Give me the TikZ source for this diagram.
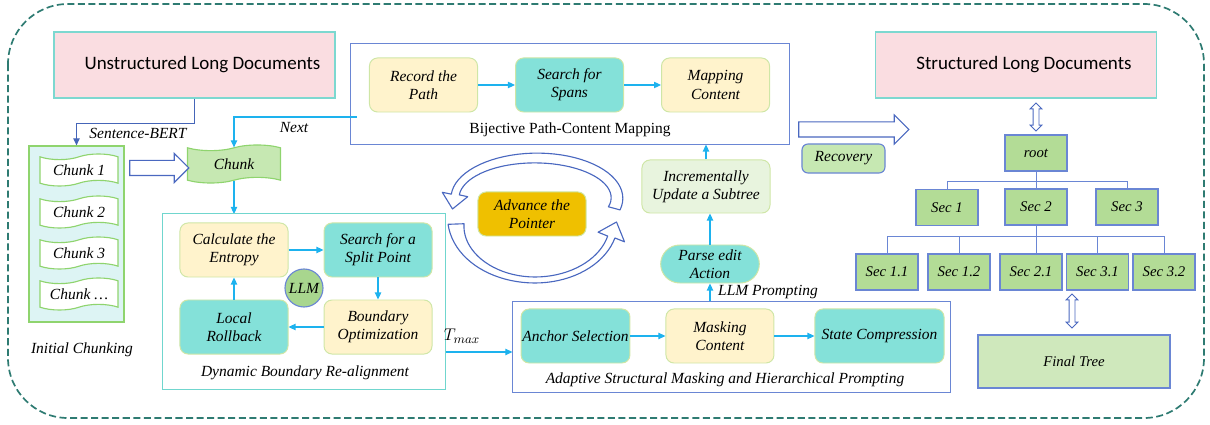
\documentclass[tikz,border=0pt]{standalone}
\usepackage{fontspec}
\setmainfont{Liberation Serif}
\newfontfamily\calibri{Carlito}
\usepackage{tikz}
\usetikzlibrary{arrows.meta,positioning,shapes.arrows,shapes.symbols,shapes.misc,calc}
\definecolor{docpink}{HTML}{FADDE1}
\definecolor{docedge}{HTML}{7CD8D0}
\definecolor{frameblue}{HTML}{6A86D4}
\definecolor{cardyellow}{HTML}{FFF3CC}
\definecolor{cardmint}{HTML}{84E1D9}
\definecolor{cardedge}{HTML}{CFE6A6}
\definecolor{flowcyan}{HTML}{1DB2EE}
\definecolor{bertblue}{HTML}{4565B8}
\definecolor{pointergold}{HTML}{EFC000}
\definecolor{chunkgreen}{HTML}{C6E8B2}
\definecolor{chunkedge}{HTML}{8FD46E}
\definecolor{poolfill}{HTML}{DDF4F4}
\definecolor{subtreefill}{HTML}{E8F4DE}
\definecolor{leafgreen}{HTML}{B3DC96}
\definecolor{finalgreen}{HTML}{CFE8BC}
\definecolor{llmgreen}{HTML}{A8D68E}
\definecolor{dashteal}{HTML}{2E7B72}
\definecolor{dynedge}{HTML}{70D6CE}
\definecolor{arcblue}{HTML}{4A68C0}

\begin{document}
\begin{tikzpicture}[
    x=0.025cm, y=-0.025cm,
    docbox/.style={rectangle, draw=docedge, fill=docpink, line width=0.8pt,
                   minimum width=7.025cm, minimum height=1.65cm,
                   font=\calibri\fontsize{13.5}{15}\selectfont},
    panel/.style={rectangle, draw=frameblue, line width=0.7pt, inner sep=0pt},
    stepcard/.style={rectangle, rounded corners=0.2cm, draw=cardedge, line width=0.7pt,
                     minimum width=2.7cm, minimum height=1.35cm, align=center,
                     font=\itshape\fontsize{11}{13}\selectfont},
    paper/.style={stepcard, fill=cardyellow},
    mint/.style={stepcard, fill=cardmint},
    piece/.style={tape, draw=chunkedge, fill=white, line width=0.8pt, tape bend height=4pt,
                  minimum width=1.95cm, minimum height=0.8cm,
                  font=\itshape\fontsize{11}{13}\selectfont},
    note/.style={font=\itshape\fontsize{11}{13}\selectfont},
    leaf/.style={rectangle, draw=frameblue, fill=leafgreen, line width=0.8pt,
                 minimum width=1.55cm, minimum height=0.9cm,
                 font=\itshape\fontsize{10.5}{12}\selectfont},
    hollow/.style={single arrow, draw=arcblue, fill=white, line width=0.8pt,
                   inner xsep=0pt, inner ysep=0.175cm, minimum width=0pt,
                   single arrow head extend=0.175cm},
    twin/.style={double arrow, draw=arcblue, fill=white, line width=0.7pt,
                 inner xsep=0pt, inner ysep=0.0625cm, minimum width=0pt,
                 double arrow head extend=0.07cm},
    arcarrow/.style={draw=arcblue, fill=white, line width=0.8pt, line join=round},
    flow/.style={-{Triangle[length=5pt,width=4.5pt]}, draw=flowcyan, line width=0.8pt},
    bert/.style={-{Triangle[length=5pt,width=4.5pt]}, draw=bertblue, line width=0.8pt},
    treeline/.style={draw=frameblue, line width=0.7pt},
]
    \useasboundingbox (0,0) rectangle (1210,425);
    \draw[dashteal, dash pattern=on 5pt off 2.5pt, line width=1.2pt, rounded corners=1.5cm]
        (8,4) rectangle (1204,418);

    % input side
    \node[docbox] (raw) at (194.5,65) {\hspace*{0.4cm}Unstructured Long Documents};
    \node[rectangle, draw=chunkedge, fill=poolfill, line width=0.8pt,
          minimum width=2.375cm, minimum height=4.4cm] (pool) at (76.5,234) {};
    \foreach \y/\txt [count=\i] in {170/Chunk 1, 212/Chunk 2, 253/Chunk 3, 294/Chunk \ldots}
        \node[piece] (c\i) at (79,\y) {\txt};
    \node[note] (initlbl) at (82,350) {Initial Chunking};
    \node[note] (bertlbl) at (138,133) {Sentence-BERT};
    \node[piece, fill=chunkgreen, minimum width=2.325cm, minimum height=0.95cm] (chunk) at (234,164) {Chunk};
    \node[hollow, minimum height=1.475cm] (push) at (155.5,168) {};
    \draw[bert] (raw.south) -- ++(0,25) -| (pool.north);

    % bijective mapping
    \node[panel, minimum width=10.95cm, minimum height=2.5cm] (bij) at (570,94) {};
    \node[paper] (rec) at (423.5,85) {Record the\\Path};
    \node[mint, right=0.925cm of rec] (spans) {Search for\\Spans};
    \node[paper, right=0.925cm of spans] (mapc) {Mapping\\Content};
    \node[font=\fontsize{11}{13}\selectfont] (bijlbl) at (570,130) {Bijective Path-Content Mapping};
    \draw[flow] (rec) -- (spans);
    \draw[flow] (spans) -- (mapc);

    \coordinate (nexttap) at (357,117);
    \node[note] (nextlbl) at (294,128) {Next};
    \draw[flow] (nexttap) -| (chunk.north);
    \draw[flow] (chunk.south) -- (chunk.south |- 0,214);

    % boundary re-alignment
    \node[panel, draw=dynedge, minimum width=7.05cm, minimum height=4.375cm] (dyn) at (304,301.5) {};
    \node[paper] (entropy) at (234,250) {Calculate the\\Entropy};
    \node[mint, right=0.875cm of entropy] (split) {Search for a\\Split Point};
    \node[paper, below=0.55cm of split] (bound) {Boundary\\Optimization};
    \node[mint, left=0.875cm of bound] (rollback) {Local\\Rollback};
    \node[circle, draw=frameblue, fill=llmgreen, line width=0.8pt, minimum size=0.95cm,
          inner sep=0pt, font=\itshape\fontsize{11}{13}\selectfont] (llm) at (304,288) {LLM};
    \node[note] (dynlbl) at (305,373) {Dynamic Boundary Re-alignment};
    \draw[flow] (entropy) -- (split);
    \draw[flow] (split) -- (bound);
    \draw[flow] (bound) -- (rollback);
    \draw[flow] (rollback) -- (entropy);

    % masking and prompting
    \node[panel, minimum width=10.925cm, minimum height=2.25cm] (adp) at (731.5,347) {};
    \node[mint, inner xsep=1pt] (anchor) at (575.5,336) {Anchor Selection};
    \node[paper, right=0.875cm of anchor] (mask) {Masking\\Content};
    \node[mint, minimum width=3.225cm, right=1cm of mask] (compress) {State Compression};
    \node[note] (adplbl) at (725,380) {Adaptive Structural Masking and Hierarchical Prompting};
    \draw[flow] (anchor) -- (mask);
    \draw[flow] (mask) -- (compress);

    \node[font=\fontsize{13}{15}\selectfont] (tmax) at (462,336) {$T_{max}$};
    \draw[flow] (dyn.east |- 0,352) -- (adp.west |- 0,352);

    % pointer loop
    \node[stepcard, fill=pointergold, minimum height=1.1cm] (advance) at (532,214) {Advance the\\Pointer};
    \draw[arcarrow] plot[domain=375:185, samples=40, variable=\t]
            ({536+(81+4+2*(\t-185)/190)*cos(\t)},{198+(40+4+2*(\t-185)/190)*sin(\t)})
        -- (442.3,192.3) -- (452.5,209) -- (467.7,196.7)
        -- plot[domain=185:375, samples=40, variable=\t]
            ({536+(81-4-2*(\t-185)/190)*cos(\t)},{198+(40-4-2*(\t-185)/190)*sin(\t)}) -- cycle;
    \draw[arcarrow] plot[domain=178:15, samples=40, variable=\t]
            ({535+(79+3+(5*(\t>90)+(\t<=90))*((\t-90)/88)^2)*cos(\t)},{222+(58+3+(5*(\t>90)+(\t<=90))*((\t-90)/88)^2)*sin(\t)})
        -- (624.5,241.8) -- (616.5,222) -- (598.1,232.2)
        -- plot[domain=15:178, samples=40, variable=\t]
            ({535+(79-3-(5*(\t>90)+(\t<=90))*((\t-90)/88)^2)*cos(\t)},{222+(58-3-(5*(\t>90)+(\t<=90))*((\t-90)/88)^2)*sin(\t)}) -- cycle;

    \node[rounded rectangle, draw=cardedge, fill=cardmint, line width=0.7pt, minimum width=2.7cm,
          minimum height=0.95cm, inner ysep=1pt, align=center,
          font=\itshape\fontsize{11}{13}\selectfont] (parse) at (710,264) {Parse edit\\Action};
    \node[stepcard, fill=subtreefill, minimum width=3.2cm,
          minimum height=1.325cm] (subtree) at (706,186.5) {Incrementally\\Update a Subtree};
    \node[note] (promptlbl) at (768,292) {LLM Prompting};
    \draw[flow] (adp.north -| parse) -- (parse.south);
    \draw[flow] (parse.north) -- (parse.north |- subtree.south);
    \draw[flow] (subtree.north) -- (subtree.north |- bij.south);

    % output side
    \node[hollow, minimum height=2.75cm] (emit) at (850,129.5) {};
    \node[rectangle, rounded corners=0.15cm, draw=frameblue, fill=chunkgreen, line width=0.8pt,
          minimum width=2.075cm, minimum height=0.725cm, font=\itshape\fontsize{11}{13}\selectfont] (recover) at (843.5,158.5) {Recovery};
    \node[docbox] (tidy) at (1016,65) {\hspace*{0.4cm}Structured Long Documents};
    \node[twin, minimum height=0.7cm, rotate=90] (link1) at (1036,117) {};

    \node[leaf] (root) at (1036,153) {root};
    \node[leaf] (s1) at (947,207.5) {Sec 1};
    \node[leaf] (s2) at (1036,207) {Sec 2};
    \node[leaf] (s3) at (1127,207) {Sec 3};
    \node[leaf] (s11) at (887,272) {Sec 1.1};
    \node[leaf] (s12) at (959,272) {Sec 1.2};
    \node[leaf] (s21) at (1031,272) {Sec 2.1};
    \node[leaf] (s31) at (1097.5,272) {Sec 3.1};
    \node[leaf] (s32) at (1164,272) {Sec 3.2};
    \draw[treeline] (root.south) -- (s2.north);
    \draw[treeline] (root.south) ++(0,10) -| (s1.north);
    \draw[treeline] (root.south) ++(0,10) -| (s3.north);
    \draw[treeline] (s2.south) -- (s2.south |- s21.north);
    \foreach \kid in {s11,s12,s31,s32}
        \draw[treeline] (s2.south) ++(0,11) -| (\kid.north);

    \node[leaf, fill=finalgreen, minimum width=4.8cm, minimum height=1.325cm] (final) at (1074,361.5) {Final Tree};
    \node[twin, minimum height=0.85cm, rotate=90] (link2) at (1072,311) {};
\end{tikzpicture}
\end{document}
